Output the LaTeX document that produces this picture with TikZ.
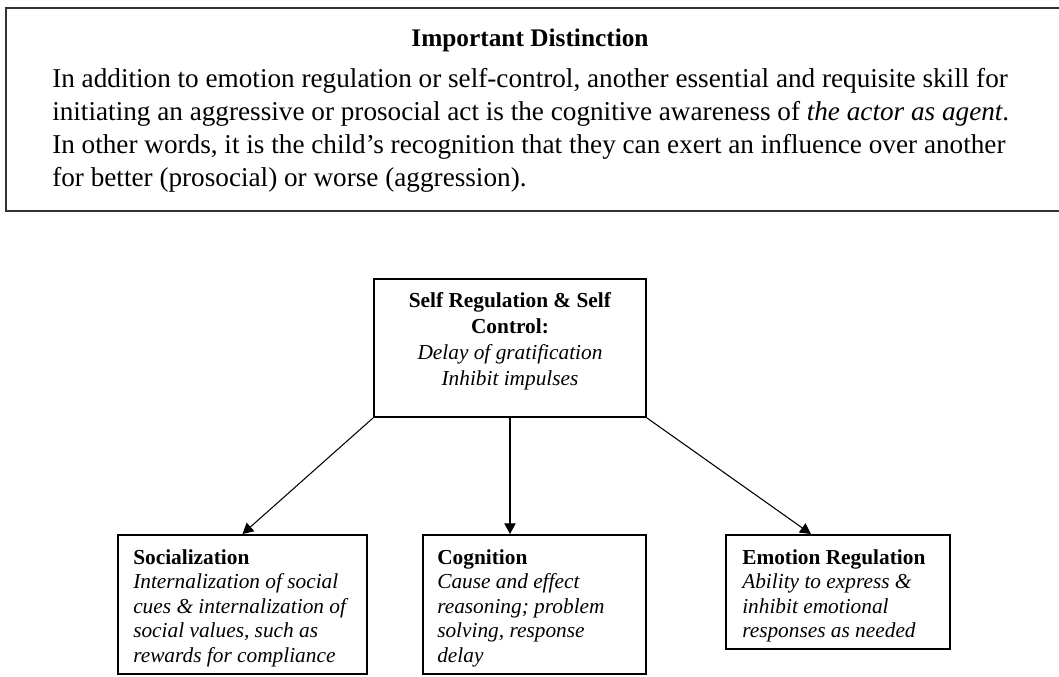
\documentclass[tikz,border=0pt]{standalone}
\usepackage{fontspec}
\setmainfont{Liberation Serif}
\usetikzlibrary{arrows.meta,calc,fit}
\begin{document}
\begin{tikzpicture}[x=0.75pt,y=-0.75pt,
  frameline/.style={line width=1.5pt, draw=black!80},
  boxline/.style={draw=black, line width=1.5pt, inner sep=0pt},
  link/.style={line width=0.8pt, -{Triangle[length=8pt,width=8.5pt]}},
  notetext/.style={inner sep=0pt, font=\fontsize{20.4}{24.75}\selectfont},
  boxtext/.style={anchor=north west, inner sep=0pt, align=left, font=\fontsize{16}{18.4}\selectfont},
]
\useasboundingbox (0,0) rectangle (1059,677);

% framed note along the top
\coordinate (nw) at (6,8);
\coordinate (ne) at (1059,8);
\coordinate (sw) at (6,211);
\coordinate (se) at (1059,211);
\draw[frameline] (ne) -- (nw) -- (sw) -- (se);

\node[notetext, font=\bfseries\fontsize{19}{24.75}\selectfont, anchor=base] (title) at (530,47) {Important Distinction};
\node[notetext, anchor=north west, align=left] (note) at (52,68)
  {In addition to emotion regulation or self-control, another essential and requisite skill for\\
   initiating an aggressive or prosocial act is the cognitive awareness of \textit{the actor as agent}.\\
   In other words, it is the child's recognition that they can exert an influence over another\\
   for better (prosocial) or worse (aggression).};

% diagram boxes
\coordinate (t1) at (374,279); \coordinate (t2) at (646,417);
\node[boxline, fit=(t1)(t2)] (top) {};
\coordinate (s1) at (118,535); \coordinate (s2) at (367,674);
\node[boxline, fit=(s1)(s2)] (soc) {};
\coordinate (c1) at (423,535); \coordinate (c2) at (646,674);
\node[boxline, fit=(c1)(c2)] (cog) {};
\coordinate (e1) at (726,535); \coordinate (e2) at (950,649);
\node[boxline, fit=(e1)(e2)] (emo) {};

% box contents
\node[boxtext, anchor=north, align=center, font=\fontsize{16}{19.5}\selectfont] (toptext) at (510,292)
  {\textbf{Self Regulation \& Self}\\ \textbf{Control:}\\ \textit{Delay of gratification}\\ \textit{Inhibit impulses}};
\node[boxtext] (soctext) at (133,549)
  {\textbf{Socialization}\\ \textit{Internalization of social}\\ \textit{cues \& internalization of}\\ \textit{social values, such as}\\ \textit{rewards for compliance}};
\node[boxtext] (cogtext) at (437,549)
  {\textbf{Cognition}\\ \textit{Cause and effect}\\ \textit{reasoning; problem}\\ \textit{solving, response}\\ \textit{delay}};
\node[boxtext] (emotext) at (742,549)
  {\textbf{Emotion Regulation}\\ \textit{Ability to express \&}\\ \textit{inhibit emotional}\\ \textit{responses as needed}};

% arrows from the top box
\draw[link] (top.south west) -- (soc.north);
\draw[link] (top.south) -- (top.south |- cog.north);
\draw[link] (top.south east) -- ($(emo.north west)!0.38!(emo.north east)$);
\end{tikzpicture}
\end{document}
